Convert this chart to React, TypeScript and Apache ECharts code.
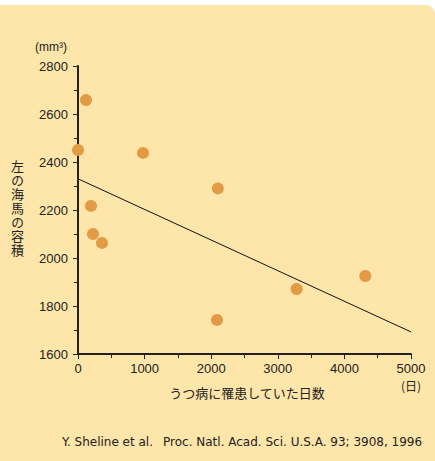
import React, { useEffect, useRef } from "react";
import * as echarts from "echarts";

const daysIll = [0, 120, 195, 225, 360, 976, 2100, 2087, 3283, 4314];
const hippocampusVolume = [2450, 2658, 2217, 2100, 2063, 2438, 2290, 1742, 1871, 1925];
const fitX = [0, 5000];
const fitY = [2330, 1692];
const yTicks = [1600, 1800, 2000, 2200, 2400, 2600, 2800];
const xTicks = [0, 1000, 2000, 3000, 4000, 5000];

const yTitle = "左の海馬の容積";
const xTitle = "うつ病に罹患していた日数";
const yUnit = "(mm³)";
const xUnit = "(日)";
const citeA = "Y. Sheline et al.";
const citeB = "Proc. Natl. Acad. Sci. U.S.A. 93; 3908, 1996";

const FONT = "'Liberation Sans', Arial, 'Noto Sans CJK JP', sans-serif";
const CITE_FONT = "'DejaVu Sans', sans-serif";
const CJK = "'Noto Sans CJK JP', sans-serif";
const TEXT = "#222";

export default function App() {
  const ref = useRef<HTMLDivElement>(null);
  useEffect(() => {
    document.body.style.margin = "0";
    const chart = echarts.init(ref.current!, null, { renderer: "svg" });
    const axisCommon = {
      axisLine: { show: true, onZero: false, lineStyle: { color: "#222", width: 2 } },
      axisTick: { show: true, inside: false, length: 5, lineStyle: { color: "#222", width: 1 } },
      minorTick: { show: true, splitNumber: 2, length: 4, lineStyle: { color: "#222", width: 1 } },
      splitLine: { show: false },
      axisLabel: { color: TEXT, fontSize: 13, fontFamily: FONT, formatter: (v: number) => String(v) },
    };
    chart.setOption({
      animation: false,
      graphic: [
        {
          type: "rect",
          z: -10,
          shape: { x: 0, y: 5, width: 435, height: 456, r: [0, 9, 0, 0] },
          style: { fill: "#FEE5A9" },
          silent: true,
        },
        {
          type: "text",
          x: 35,
          y: 47,
          style: { text: yUnit, fill: TEXT, font: `12px ${FONT}`, verticalAlign: "middle" },
        },
        {
          type: "text",
          x: 247,
          y: 392,
          style: { text: xTitle, fill: TEXT, font: `13px ${CJK}`, align: "center", verticalAlign: "middle" },
        },
        {
          type: "text",
          x: 411,
          y: 385,
          style: { text: xUnit, fill: TEXT, font: `12px ${CJK}`, align: "center", verticalAlign: "middle" },
        },
        {
          type: "text",
          x: 62,
          y: 442,
          style: { text: citeA, fill: TEXT, font: `12px ${CITE_FONT}`, verticalAlign: "middle" },
        },
        {
          type: "text",
          x: 163,
          y: 442,
          style: { text: citeB, fill: TEXT, font: `12px ${CITE_FONT}`, verticalAlign: "middle" },
        },
      ],
      grid: { left: 78, right: 24, top: 66, bottom: 107 },
      xAxis: {
        type: "value",
        min: xTicks[0],
        max: xTicks[xTicks.length - 1],
        interval: 1000,
        ...axisCommon,
        axisLabel: { ...axisCommon.axisLabel, margin: 8 },
      },
      yAxis: {
        type: "value",
        min: yTicks[0],
        max: yTicks[yTicks.length - 1],
        interval: 200,
        ...axisCommon,
        axisLabel: { ...axisCommon.axisLabel, margin: 10 },
      },
      series: [
        {
          type: "line",
          data: fitX.map((x, i) => [x, fitY[i]]),
          symbol: "none",
          lineStyle: { color: "#111", width: 1 },
          z: 2,
        },
        {
          type: "scatter",
          data: daysIll.map((x, i) => [x, hippocampusVolume[i]]),
          symbolSize: 12,
          itemStyle: { color: "#E39A45", opacity: 1 },
          z: 3,
        },
      ],
    });
    return () => chart.dispose();
  }, []);
  return (
    <div style={{ position: "absolute", left: 0, top: 0, width: 435, height: 461 }}>
      <div ref={ref} style={{ position: "absolute", left: 0, top: 0, width: 435, height: 461 }} />
      <div
        style={{
          position: "absolute",
          left: 10,
          top: 160,
          writingMode: "vertical-rl",
          textOrientation: "upright",
          fontFamily: CJK,
          fontSize: 13,
          lineHeight: "14px",
          letterSpacing: 1,
          color: TEXT,
          whiteSpace: "nowrap",
          pointerEvents: "none",
        }}
      >
        {yTitle}
      </div>
    </div>
  );
}
